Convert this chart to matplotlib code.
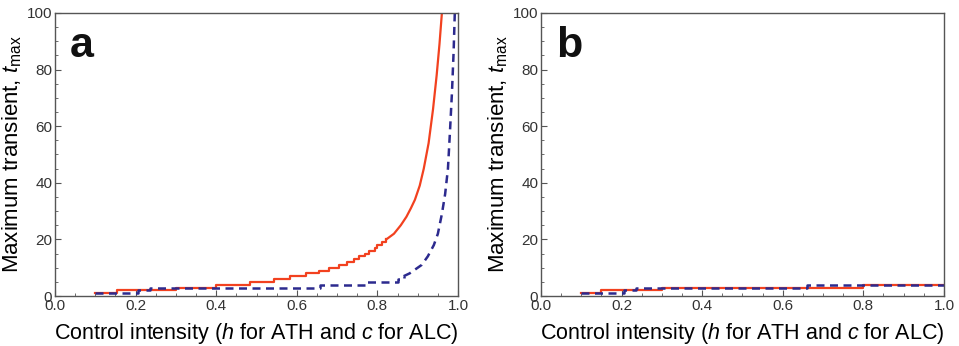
import matplotlib
matplotlib.use("Agg")
import matplotlib.pyplot as plt
from matplotlib.ticker import MultipleLocator

# ======================================================
# 데이터
# ======================================================
# panel a : ATH (red, solid) - step part + steep tail
red_a_h = [0.10, 0.153, 0.30, 0.40, 0.483, 0.543, 0.584, 0.622, 0.655, 0.68,
           0.705, 0.725, 0.741, 0.755, 0.769, 0.78, 0.793, 0.80, 0.812, 0.822]
red_a_t = [1, 2, 3, 4, 5, 6, 7, 8, 9, 10,
           11, 12, 13, 14, 15, 16, 17, 18, 19, 20]
red_a_tail_h = [0.822, 0.841, 0.858, 0.872, 0.883, 0.893, 0.905, 0.915,
                0.927, 0.938, 0.947, 0.954, 0.96]
red_a_tail_t = [20, 22, 25, 28, 31, 34, 39, 45, 54, 66, 78, 89, 100]

# panel a : ALC (blue, dashed)
blue_a_h = [0.10, 0.207, 0.236, 0.657, 0.773, 0.85, 0.865]
blue_a_t = [1, 2, 3, 4, 5, 6, 7]
blue_a_tail_h = [0.865, 0.88, 0.895, 0.91, 0.925, 0.94, 0.95, 0.96, 0.968,
                 0.975, 0.98, 0.985, 0.989, 0.992]
blue_a_tail_t = [7, 8, 9.5, 11, 14, 18, 22, 29, 36, 45, 58, 72, 86, 100]

# panel b
red_b_h = [0.10, 0.15, 0.30, 0.80, 1.0]
red_b_t = [1, 2, 3, 4, 4]
blue_b_h = [0.10, 0.207, 0.236, 0.66, 1.0]
blue_b_t = [1, 2, 3, 4, 4]

RED = "#f2411f"
BLUE = "#2c2a8e"

plt.rcParams["font.family"] = ["Liberation Sans", "DejaVu Sans"]
plt.rcParams["mathtext.fontset"] = "custom"
plt.rcParams["mathtext.rm"] = "Liberation Sans"
plt.rcParams["mathtext.it"] = "Liberation Sans:italic"

fig = plt.figure(figsize=(9.59, 3.46), dpi=100)
ax_a = fig.add_axes([0.0574, 0.1445, 0.4202, 0.818])
ax_b = fig.add_axes([0.5641, 0.1445, 0.4202, 0.818])


def style_axes(ax, letter):
    ax.set_xlim(0, 1)
    ax.set_ylim(0, 100)
    ax.xaxis.set_major_locator(MultipleLocator(0.2))
    ax.xaxis.set_minor_locator(MultipleLocator(0.05))
    ax.yaxis.set_major_locator(MultipleLocator(20))
    ax.yaxis.set_minor_locator(MultipleLocator(5))
    ax.xaxis.set_major_formatter(lambda v, p: f"{v:.1f}")
    ax.tick_params(which="both", direction="in", color="#555555",
                   labelcolor="#333333", labelsize=11, pad=2)
    ax.tick_params(which="major", length=4, width=0.8)
    ax.tick_params(which="minor", length=2, width=0.6)
    for s in ax.spines.values():
        s.set_color("#555555")
        s.set_linewidth(1.0)
    ax.set_xlabel(r"Control intensity ($h$ for ATH and $c$ for ALC)",
                  fontsize=15.5, labelpad=6)
    ax.set_ylabel(r"Maximum transient, $t_{\mathrm{max}}$", fontsize=16,
                  labelpad=2)
    ax.text(0.037, 0.845, letter, transform=ax.transAxes, fontsize=31,
            fontweight="bold", color="#111111")


# ------------------------------------------------------
# panel a
# ------------------------------------------------------
ax_a.plot(red_a_h, red_a_t, color=RED, lw=1.6, drawstyle="steps-post")
ax_a.plot(red_a_tail_h, red_a_tail_t, color=RED, lw=1.6)
ax_a.plot(blue_a_h, blue_a_t, color=BLUE, lw=1.8, drawstyle="steps-post",
          dashes=(3.2, 2.2))
ax_a.plot(blue_a_tail_h, blue_a_tail_t, color=BLUE, lw=1.8,
          dashes=(3.2, 2.2))
style_axes(ax_a, "a")

# ------------------------------------------------------
# panel b
# ------------------------------------------------------
ax_b.plot(red_b_h, red_b_t, color=RED, lw=1.6, drawstyle="steps-post")
ax_b.plot(blue_b_h, blue_b_t, color=BLUE, lw=1.8, drawstyle="steps-post",
          dashes=(3.2, 2.2))
style_axes(ax_b, "b")

fig.savefig("out.png", dpi=100)
